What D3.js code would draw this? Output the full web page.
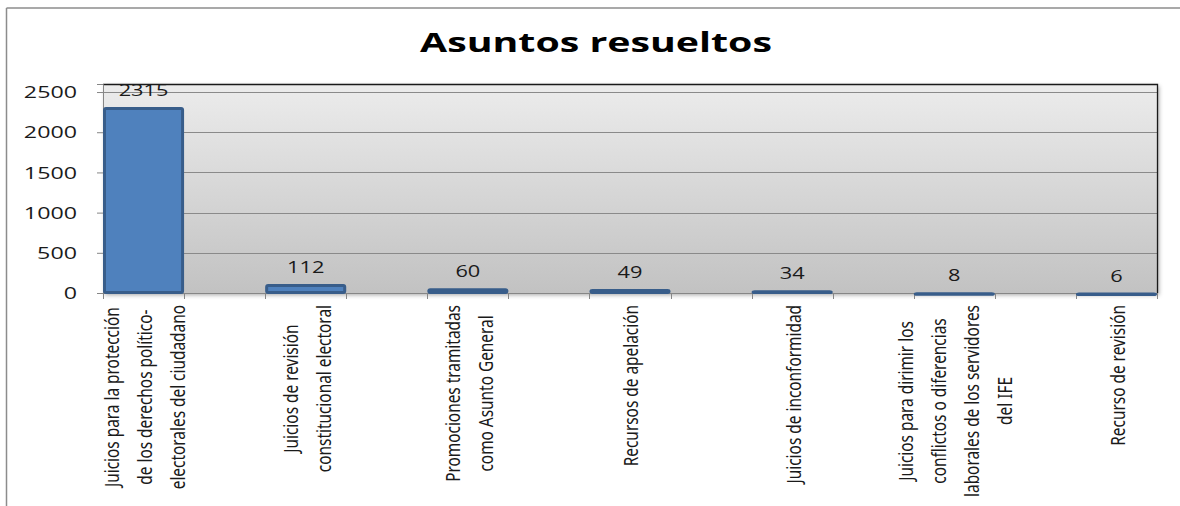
<!DOCTYPE html>
<html>
<head>
<meta charset="utf-8">
<script src="https://cdn.jsdelivr.net/npm/d3@7"></script>
<style>
  body { margin: 0; background: #fff; }
  svg { display: block; }
</style>
</head>
<body>
<svg id="chart"></svg>
<script>
// data
const categories = [
  ["Juicios para  la protección", "de los derechos político-", "electorales del ciudadano"],
  ["Juicios de revisión", "constitucional electoral"],
  ["Promociones tramitadas", "como Asunto General"],
  ["Recursos de apelación"],
  ["Juicios de inconformidad"],
  ["Juicios para dirimir los", "conflictos o diferencias", "laborales de los servidores", "del IFE"],
  ["Recurso de revisión"]
];
const values = [2315, 112, 60, 49, 34, 8, 6];
const yTicks = [0, 500, 1000, 1500, 2000, 2500];
const title = "Asuntos resueltos";

const W = 1180, H = 506;
const plot = { left: 103, right: 1157, top: 84, bottom: 293 };
const stretch = 1.5; // the source picture is widened horizontally

const svg = d3.select("#chart").attr("width", W).attr("height", H);

const defs = svg.append("defs");
const grad = defs.append("linearGradient").attr("id", "wall").attr("x1", 0).attr("x2", 0).attr("y1", 0).attr("y2", 1);
grad.append("stop").attr("offset", "0%").attr("stop-color", "#ececec");
grad.append("stop").attr("offset", "100%").attr("stop-color", "#c2c2c2");
const shadow = defs.append("filter").attr("id", "shadow").attr("x", "-5%").attr("y", "-5%").attr("width", "110%").attr("height", "120%");
shadow.append("feDropShadow").attr("dx", 2).attr("dy", 2).attr("stdDeviation", 2).attr("flood-color", "#000").attr("flood-opacity", 0.35);

// chart frame (only left and top edges visible)
svg.append("line").attr("x1", 6.5).attr("x2", W).attr("y1", 8).attr("y2", 8).attr("stroke", "#8c8c8c").attr("stroke-width", 1.5);
svg.append("line").attr("x1", 6.5).attr("x2", 6.5).attr("y1", 8).attr("y2", H).attr("stroke", "#8c8c8c").attr("stroke-width", 1.5);

// scales
const x = d3.scaleBand().domain(d3.range(values.length)).range([plot.left, plot.right]).paddingInner(0.5).paddingOuter(0);
const y = d3.scaleLinear().domain([0, 2600]).range([plot.bottom, plot.top]);

// plot wall
svg.append("rect")
  .attr("x", plot.left).attr("y", plot.top)
  .attr("width", plot.right - plot.left).attr("height", plot.bottom - plot.top)
  .attr("fill", "url(#wall)").attr("filter", "url(#shadow)");

// gridlines
svg.append("g").selectAll("line").data(yTicks.filter(d => d > 0)).join("line")
  .attr("x1", plot.left).attr("x2", plot.right)
  .attr("y1", d => Math.round(y(d)) + 0.5).attr("y2", d => Math.round(y(d)) + 0.5)
  .attr("stroke", "#8a8a8a").attr("stroke-width", 1);

// wall border top + right
svg.append("path")
  .attr("d", `M${plot.left},${plot.top + 0.5}H${plot.right + 0.5}V${plot.bottom}`)
  .attr("fill", "none").attr("stroke", "#1a1a1a").attr("stroke-width", 1.3);

// y axis
const yAxis = svg.append("g").attr("transform", `translate(${plot.left},0)`)
  .call(d3.axisLeft(y).tickValues(yTicks).tickSize(6).tickPadding(0).tickFormat(d3.format("d")));
yAxis.select(".domain").attr("stroke", "#868686");
yAxis.selectAll(".tick line").attr("stroke", "#868686");
yAxis.selectAll(".tick text").remove();
yAxis.selectAll(".tick").append("text")
  .attr("transform", `translate(-26,0) scale(${stretch},1)`)
  .attr("text-anchor", "end").attr("dy", "0.36em")
  .attr("fill", "#1a1a1a")
  .style("font-family", "'Open Sans', sans-serif").style("font-size", "15.5px")
  .text(d => d);

// x axis line + ticks at band edges
svg.append("line").attr("x1", plot.left).attr("x2", plot.right + 1)
  .attr("y1", plot.bottom + 0.5).attr("y2", plot.bottom + 0.5).attr("stroke", "#868686");
const edges = [];
x.domain().forEach(i => { edges.push(x(i)); edges.push(x(i) + x.bandwidth()); });
svg.append("g").selectAll("line").data(edges).join("line")
  .attr("x1", d => Math.round(d) + 0.5).attr("x2", d => Math.round(d) + 0.5)
  .attr("y1", plot.bottom).attr("y2", plot.bottom + 6)
  .attr("stroke", "#868686");

// bars
svg.append("g").selectAll("rect").data(values).join("rect")
  .attr("x", (d, i) => x(i) + 1.5)
  .attr("y", d => y(d) + 1.5)
  .attr("width", x.bandwidth() - 3)
  .attr("height", d => Math.max(0.5, y(0) - y(d) - 2))
  .attr("rx", 1.5)
  .attr("fill", "#4f81bd")
  .attr("stroke", "#385d8a")
  .attr("stroke-width", 3);

// value labels
svg.append("g").selectAll("text").data(values).join("text")
  .attr("transform", (d, i) => `translate(${x(i) + x.bandwidth() / 2},${y(d) - 11}) scale(1.32,1)`)
  .attr("text-anchor", "middle")
  .attr("fill", "#1a1a1a")
  .style("font-family", "'Open Sans', sans-serif").style("font-size", "16.5px")
  .text(d => d);

// category labels, rotated, top aligned under the axis
const labelTop = 305;
const sy = 1.35;
const lineGap = 33 / sy;
const catFont = 15.4;
const cats = svg.append("g").selectAll("g").data(categories).join("g")
  .attr("transform", (d, i) => `translate(${x(i) + x.bandwidth() / 2 + 1},${labelTop}) rotate(-90) scale(1,${sy})`);
cats.each(function (lines) {
  const g = d3.select(this);
  const texts = g.selectAll("text").data(lines).join("text")
    .attr("text-anchor", "middle")
    .attr("fill", "#1a1a1a")
    .style("font-family", "'Noto Sans', sans-serif").style("font-size", catFont + "px")
    .text(d => d);
  let maxLen = 0;
  texts.each(function () { maxLen = Math.max(maxLen, this.getComputedTextLength()); });
  const n = lines.length;
  texts.attr("x", -maxLen / 2)
    .attr("y", (d, j) => (j - (n - 1) / 2) * lineGap + catFont * 0.36);
});

// title
const t = svg.append("text")
  .attr("text-anchor", "middle")
  .attr("fill", "#000")
  .style("font-family", "'Open Sans', sans-serif").style("font-size", "27px").style("font-weight", "bold")
  .text(title);
const tw = t.node().getComputedTextLength();
t.attr("transform", `translate(596,52) scale(${352 / tw},1)`);
</script>
</body>
</html>
